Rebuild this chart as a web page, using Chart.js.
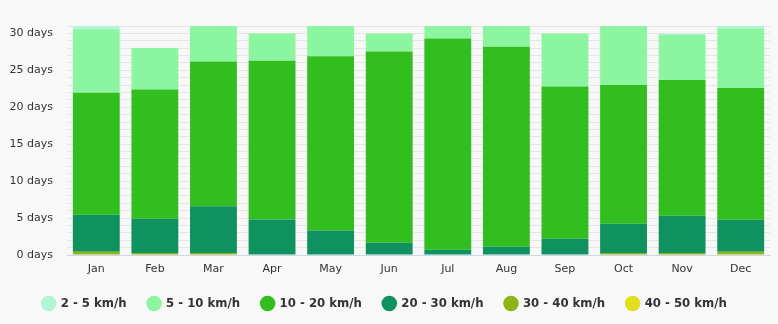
<!DOCTYPE html>
<html>
<head>
<meta charset="utf-8">
<script src="https://cdn.jsdelivr.net/npm/chart.js@4.4.0/dist/chart.umd.min.js"></script>
<style>
  html, body { margin: 0; padding: 0; background: #f8f8f8; }
  #wrap { width: 778px; height: 324px; }
</style>
</head>
<body>
<div id="wrap"><canvas id="chart" width="778" height="324"></canvas></div>
<script>
const months = ['Jan', 'Feb', 'Mar', 'Apr', 'May', 'Jun', 'Jul', 'Aug', 'Sep', 'Oct', 'Nov', 'Dec'];

// days per month in each wind speed band
const wind2to5   = [0.45, 0, 0, 0, 0, 0, 0, 0, 0, 0, 0.2, 0.3];
const wind5to10  = [8.6, 5.6, 4.8, 3.7, 4.1, 2.45, 1.7, 2.8, 7.2, 7.98, 6.1, 8.1];
const wind10to20 = [16.5, 17.5, 19.6, 21.5, 23.6, 25.9, 28.6, 27.1, 20.6, 18.8, 18.4, 17.83];
const wind20to30 = [5.0, 4.64, 6.33, 4.8, 3.3, 1.65, 0.7, 1.1, 2.2, 3.95, 5.03, 4.32];
const wind30to40 = [0.45, 0.27, 0.27, 0, 0, 0, 0, 0, 0, 0.27, 0.27, 0.45];
const wind40to50 = [0, 0, 0, 0, 0, 0, 0, 0, 0, 0, 0, 0];

const yMax = 31;

const ctx = document.getElementById('chart').getContext('2d');

// paint the light grey page background onto the canvas
const background = {
    id: 'background',
    beforeDraw(chart) {
        const c = chart.ctx;
        c.save();
        c.fillStyle = '#f8f8f8';
        c.fillRect(0, 0, chart.width, chart.height);
        c.restore();
    }
};

const chart = new Chart(ctx, {
    type: 'bar',
    data: {
        labels: months,
        // listed bottom of the stack first, legend is reversed
        datasets: [{
            label: '40 - 50 km/h',
            backgroundColor: '#e3df1f',
            data: wind40to50
        }, {
            label: '30 - 40 km/h',
            backgroundColor: '#8db516',
            data: wind30to40
        }, {
            label: '20 - 30 km/h',
            backgroundColor: '#0f9160',
            data: wind20to30
        }, {
            label: '10 - 20 km/h',
            backgroundColor: '#32be1f',
            data: wind10to20
        }, {
            label: '5 - 10 km/h',
            backgroundColor: '#8cf5a0',
            data: wind5to10
        }, {
            label: '2 - 5 km/h',
            backgroundColor: '#b0f5d8',
            data: wind2to5
        }]
    },
    options: {
        responsive: false,
        animation: false,
        layout: { padding: { left: 0, right: 8, top: 26, bottom: 4 } },
        datasets: {
            bar: { barPercentage: 0.8, categoryPercentage: 1.0, borderWidth: 0 }
        },
        scales: {
            x: {
                stacked: true,
                afterFit(scale) { scale.height = 20; },
                grid: { display: false, drawTicks: false },
                border: { display: true, color: '#ccd6eb' },
                ticks: { color: '#333', font: { family: 'DejaVu Sans', size: 11 }, padding: 8 }
            },
            y: {
                stacked: true,
                min: 0,
                max: yMax,
                afterFit(scale) { scale.width = 67; },
                grid: { color: '#e6e6e6', drawTicks: false },
                border: { display: false },
                ticks: {
                    stepSize: 1,
                    autoSkip: false,
                    padding: 14,
                    color: '#333',
                    font: { family: 'DejaVu Sans', size: 11 },
                    callback: (v) => (v % 5 === 0 ? v + ' days' : '')
                }
            }
        },
        plugins: {
            tooltip: { enabled: false },
            legend: {
                position: 'bottom',
                reverse: true,
                labels: {
                    usePointStyle: true,
                    pointStyle: 'circle',
                    boxWidth: 11,
                    boxHeight: 11,
                    padding: 22,
                    color: '#333',
                    font: { family: 'DejaVu Sans Condensed', size: 13, weight: 'bold' }
                }
            }
        }
    },
    plugins: [background]
});
</script>
</body>
</html>
